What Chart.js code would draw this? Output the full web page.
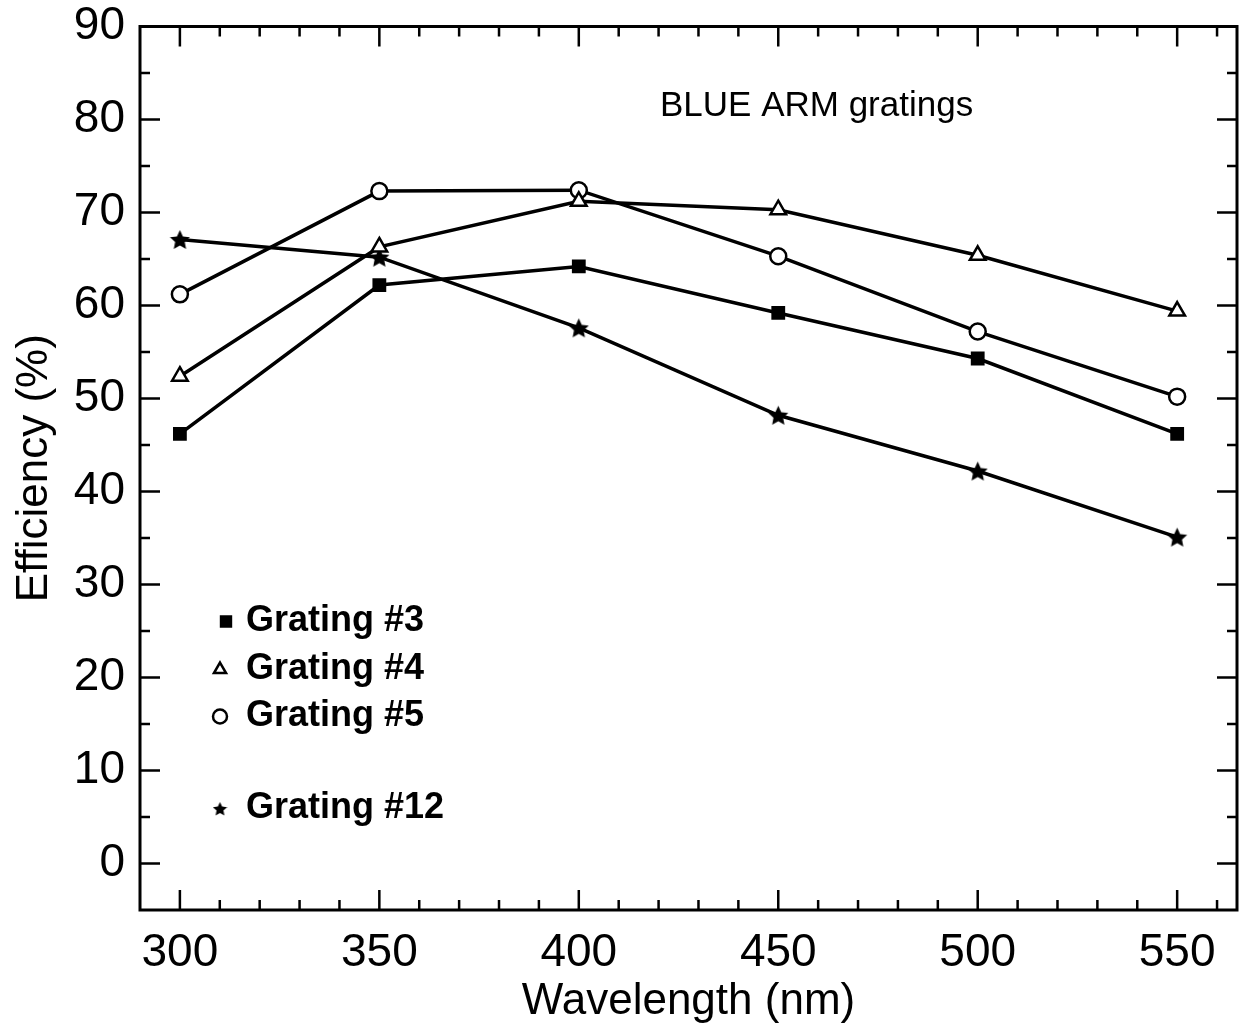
<!DOCTYPE html>
<html>
<head>
<meta charset="utf-8">
<script src="https://cdn.jsdelivr.net/npm/chart.js@4.4.0/dist/chart.umd.min.js"></script>
<style>
    html, body { margin: 0; padding: 0; background: #fff; }
    #wrap { width: 1249px; height: 1028px; }
</style>
</head>
<body>
<div id="wrap"><canvas id="chart" width="1249" height="1028"></canvas></div>
<script>
// Данные: длина волны (nm) и эффективность (%)
const wavelengths = [300, 350, 400, 450, 500, 550];
const grating3 = [46.2, 62.2, 64.2, 59.2, 54.3, 46.2];
const grating4 = [52.4, 66.3, 71.2, 70.3, 65.4, 59.4];
const grating5 = [61.2, 72.3, 72.4, 65.3, 57.2, 50.2];
const grating12 = [67.1, 65.2, 57.6, 48.2, 42.2, 35.1];

const xTicks = [300, 350, 400, 450, 500, 550];
const yTicks = [0, 10, 20, 30, 40, 50, 60, 70, 80, 90];
const legendLabels = ['Grating #3', 'Grating #4', 'Grating #5', 'Grating #12'];
const plotTitle = 'BLUE ARM gratings';

const FONT = 'Liberation Sans';

// Залитая звезда для маркеров
function makeStar(size) {
    const c = document.createElement('canvas');
    c.width = size;
    c.height = size;
    const g = c.getContext('2d');
    const R = size / 2, r = R * 0.48;
    g.beginPath();
    for (let i = 0; i < 10; i++) {
        const a = -Math.PI / 2 + i * Math.PI / 5;
        const rr = i % 2 === 0 ? R : r;
        g.lineTo(R + rr * Math.cos(a), R + 1 + rr * Math.sin(a));
    }
    g.closePath();
    g.fillStyle = '#000';
    g.fill();
    return c;
}

const starBig = makeStar(21);
const starSmall = makeStar(15);

function toPoints(values) {
    return wavelengths.map((w, i) => ({ x: w, y: values[i] }));
}

function makeDataset(label, values, style, radius, fill) {
    return {
        label: label,
        data: toPoints(values),
        borderColor: '#000',
        borderWidth: 3.5,
        pointStyle: style,
        pointRadius: radius,
        pointHoverRadius: radius,
        pointBackgroundColor: fill,
        pointBorderColor: '#000',
        pointBorderWidth: 2.5,
        tension: 0
    };
}

const datasets = [
    makeDataset(legendLabels[0], grating3, 'rect', 8, '#000'),
    makeDataset(legendLabels[1], grating4, 'triangle', 9, '#fff'),
    makeDataset(legendLabels[2], grating5, 'circle', 8, '#fff'),
    makeDataset(legendLabels[3], grating12, starBig, 9, '#000')
];

// Рамка, внутренние засечки, надпись и легенда
const framePlugin = {
    id: 'frame',
    afterDraw(chart) {
        const ctx = chart.ctx;
        const a = chart.chartArea;
        const xs = chart.scales.x, ys = chart.scales.y;
        ctx.save();
        ctx.strokeStyle = '#000';
        ctx.lineWidth = 2.5;
        ctx.beginPath();
        for (let v = 300; v <= 560; v += 10) {
            const px = xs.getPixelForValue(v);
            const len = v % 50 === 0 ? 20 : 10;
            ctx.moveTo(px, a.bottom);
            ctx.lineTo(px, a.bottom - len);
            ctx.moveTo(px, a.top);
            ctx.lineTo(px, a.top + len);
        }
        for (let v = 0; v < 90; v += 5) {
            const py = ys.getPixelForValue(v);
            const len = v % 10 === 0 ? 20 : 10;
            ctx.moveTo(a.left, py);
            ctx.lineTo(a.left + len, py);
            ctx.moveTo(a.right, py);
            ctx.lineTo(a.right - len, py);
        }
        ctx.stroke();

        ctx.lineWidth = 3;
        ctx.strokeRect(a.left, a.top, a.right - a.left, a.bottom - a.top);

        // Заголовок внутри графика
        ctx.fillStyle = '#000';
        ctx.font = '35px "' + FONT + '"';
        ctx.textAlign = 'left';
        ctx.textBaseline = 'middle';
        ctx.fillText(plotTitle, a.left + 520, a.top + 80);

        // Легенда
        const rows = [595, 643, 690, 782];
        const markX = [86, 80, 80, 80];
        ctx.font = 'bold 36px "' + FONT + '"';
        chart.data.datasets.forEach((ds, i) => {
            const y = a.top + rows[i];
            const x = a.left + markX[i];
            ctx.fillStyle = ds.pointBackgroundColor;
            ctx.strokeStyle = '#000';
            ctx.lineWidth = 2.5;
            if (ds.pointStyle === starBig) {
                ctx.drawImage(starSmall, x - 7.5, y - 7.5);
            } else {
                Chart.helpers.drawPoint(ctx, {
                    pointStyle: ds.pointStyle,
                    radius: 7,
                    rotation: 0,
                    borderWidth: 2.5
                }, x, y);
            }
            ctx.fillStyle = '#000';
            ctx.fillText(ds.label, a.left + 106, y);
        });
        ctx.restore();
    }
};

new Chart(document.getElementById('chart'), {
    type: 'line',
    data: { datasets: datasets },
    plugins: [framePlugin],
    options: {
        responsive: false,
        animation: false,
        layout: { padding: { top: 0, right: 12, left: 0, bottom: 0 } },
        plugins: {
            legend: { display: false },
            tooltip: { enabled: false }
        },
        scales: {
            x: {
                type: 'linear',
                min: 290,
                max: 565,
                afterBuildTicks: s => { s.ticks = xTicks.map(v => ({ value: v })); },
                afterFit: s => { s.height = 118; },
                grid: { display: false, drawTicks: false },
                border: { display: false },
                ticks: {
                    color: '#000',
                    font: { family: FONT, size: 46 },
                    padding: 16,
                    maxRotation: 0,
                    autoSkip: false
                },
                title: {
                    display: true,
                    text: 'Wavelength (nm)',
                    color: '#000',
                    font: { family: FONT, size: 44 },
                    padding: { top: 0, bottom: 0 }
                }
            },
            y: {
                type: 'linear',
                min: -5,
                max: 90,
                afterBuildTicks: s => { s.ticks = yTicks.map(v => ({ value: v })); },
                afterFit: s => { s.width = 140; },
                grid: { display: false, drawTicks: false },
                border: { display: false },
                ticks: {
                    color: '#000',
                    font: { family: FONT, size: 46, lineHeight: 0.5 },
                    padding: 15,
                    autoSkip: false
                },
                title: {
                    display: true,
                    text: 'Efficiency (%)',
                    color: '#000',
                    font: { family: FONT, size: 44 },
                    padding: { top: 8, bottom: 0 }
                }
            }
        }
    }
});
</script>
</body>
</html>
